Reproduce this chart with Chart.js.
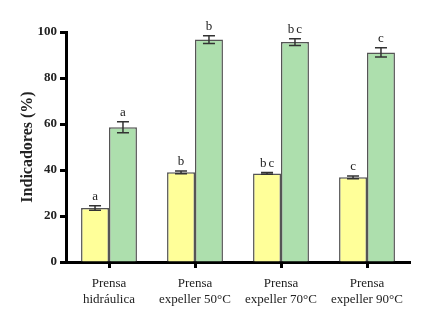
<!DOCTYPE html>
<html>
<head>
<meta charset="utf-8">
<script src="https://cdn.jsdelivr.net/npm/chart.js@4"></script>
<style>
  html, body { margin: 0; padding: 0; background: #fff; }
  #wrap { width: 429px; height: 325px; }
</style>
</head>
<body>
<div id="wrap"><canvas id="chart" width="429" height="325"></canvas></div>
<script>
// datos
const categorias = [['Prensa', 'hidráulica'], ['Prensa', 'expeller 50°C'], ['Prensa', 'expeller 70°C'], ['Prensa', 'expeller 90°C']];
const amarillo = [23.5, 39.0, 38.5, 36.8];
const amarilloErr = [1.0, 0.6, 0.4, 0.6];
const amarilloLetras = ['a', 'b', 'bc', 'c'];
const verde = [58.6, 96.7, 95.6, 91.1];
const verdeErr = [2.4, 1.7, 1.5, 2.0];
const verdeLetras = ['a', 'b', 'bc', 'c'];
const yTicks = [0, 20, 40, 60, 80, 100];

const errores = [amarilloErr, verdeErr];
const letras = [amarilloLetras, verdeLetras];

// barras de error + letras de significancia
const errorBars = {
  id: 'errorBars',
  afterDatasetsDraw(chart) {
    const ctx = chart.ctx;
    const y = chart.scales.y;
    chart.data.datasets.forEach((ds, i) => {
      const meta = chart.getDatasetMeta(i);
      meta.data.forEach((bar, j) => {
        const v = ds.data[j], e = errores[i][j];
        const top = y.getPixelForValue(v + e);
        const bot = y.getPixelForValue(v - e);
        const cap = 6;
        ctx.save();
        ctx.strokeStyle = '#333';
        ctx.lineWidth = 1.5;
        ctx.beginPath();
        ctx.moveTo(bar.x, top); ctx.lineTo(bar.x, bot);
        ctx.moveTo(bar.x - cap, top); ctx.lineTo(bar.x + cap, top);
        ctx.moveTo(bar.x - cap, bot); ctx.lineTo(bar.x + cap, bot);
        ctx.stroke();
        ctx.fillStyle = '#222';
        ctx.font = '13px "Liberation Serif", serif';
        ctx.letterSpacing = '2px';
        ctx.textAlign = 'center';
        ctx.textBaseline = 'alphabetic';
        ctx.fillText(letras[i][j], bar.x + 1, top - 6);
        ctx.restore();
      });
    });
  }
};

const ctx = document.getElementById('chart').getContext('2d');
new Chart(ctx, {
  type: 'bar',
  data: {
    labels: categorias,
    datasets: [{
      label: 'A',
      data: amarillo,
      backgroundColor: '#FFFF99',
      borderColor: '#555',
      borderWidth: 1.5,
      barPercentage: 1,
      categoryPercentage: 0.65
    }, {
      label: 'B',
      data: verde,
      backgroundColor: '#ADDFAD',
      borderColor: '#555',
      borderWidth: 1.5,
      barPercentage: 1,
      categoryPercentage: 0.65
    }]
  },
  options: {
    responsive: false,
    animation: false,
    layout: { padding: { left: 0, right: 19, top: 32, bottom: 0 } },
    plugins: { legend: { display: false }, tooltip: { enabled: false } },
    scales: {
      x: {
        offset: true,
        border: { color: '#000', width: 3 },
        grid: { offset: false, drawOnChartArea: false, color: '#000', tickLength: 6, tickWidth: 3 },
        ticks: {
          color: '#222',
          font: { family: '"Liberation Serif", serif', size: 13 },
          padding: 8,
          maxRotation: 0
        },
        afterFit(scale) { scale.height = 63; }
      },
      y: {
        min: 0,
        max: 100,
        afterBuildTicks(scale) { scale.ticks = yTicks.map(v => ({ value: v })); },
        border: { color: '#000', width: 3 },
        grid: { drawOnChartArea: false, color: '#000', tickLength: 6, tickWidth: 3 },
        ticks: {
          color: '#222',
          font: { family: '"Liberation Serif", serif', size: 13, weight: 'bold' },
          padding: 3
        },
        title: {
          display: true,
          text: 'Indicadores (%)',
          color: '#222',
          font: { family: '"Liberation Serif", serif', size: 16, weight: 'bold' },
          padding: { top: 18, bottom: 0 }
        },
        afterFit(scale) { scale.width = 66; }
      }
    }
  },
  plugins: [errorBars]
});
</script>
</body>
</html>
